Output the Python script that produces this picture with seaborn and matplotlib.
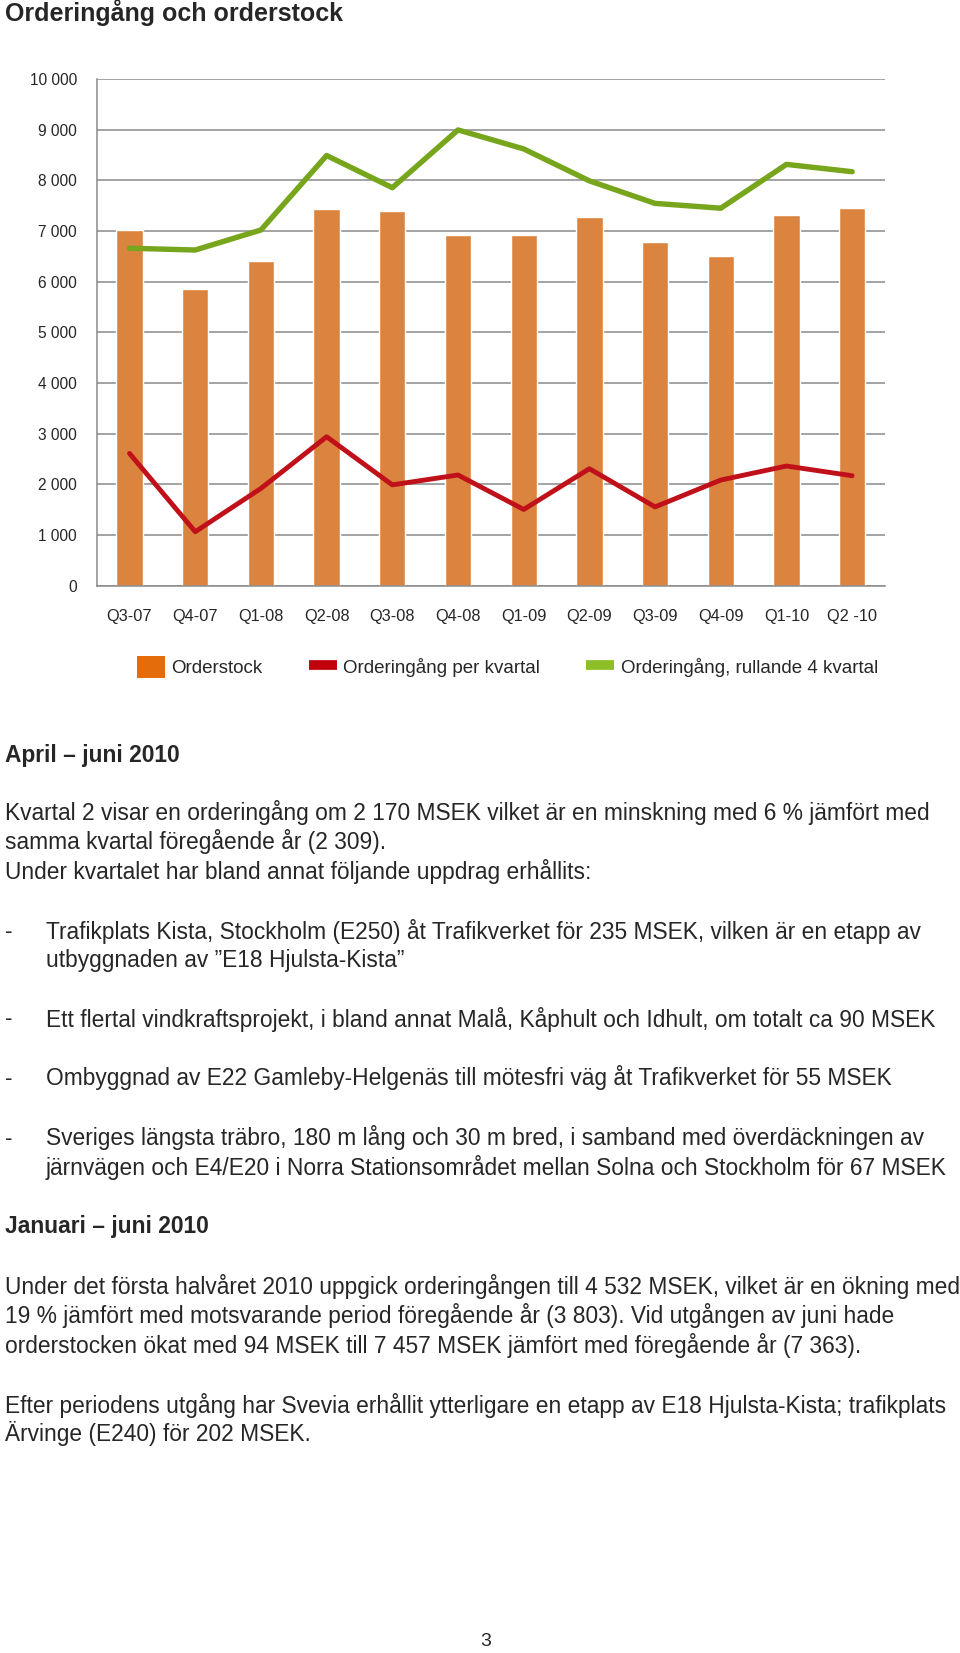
import pandas as pd
import numpy as np
import seaborn as sns
import matplotlib.pyplot as plt
from matplotlib.ticker import FuncFormatter
from matplotlib.patches import Patch
from matplotlib.lines import Line2D

quarters = ['Q3-07', 'Q4-07', 'Q1-08', 'Q2-08', 'Q3-08', 'Q4-08',
            'Q1-09', 'Q2-09', 'Q3-09', 'Q4-09', 'Q1-10', 'Q2 -10']
orderstock = [7020, 5860, 6410, 7430, 7395, 6930, 6930, 7270, 6780, 6510, 7320, 7457]
per_kvartal = [2610, 1065, 1920, 2940, 1990, 2185, 1505, 2309, 1555, 2085, 2362, 2170]
rullande = [6660, 6625, 7020, 8490, 7855, 8995, 8620, 7990, 7545, 7450, 8315, 8170]
series_names = ['Orderstock', 'Orderingång per kvartal', 'Orderingång, rullande 4 kvartal']

df = pd.DataFrame({'kvartal': quarters, series_names[0]: orderstock,
                   series_names[1]: per_kvartal, series_names[2]: rullande})

sns.set_style('white')
plt.rcParams['font.family'] = ['Liberation Sans', 'DejaVu Sans']

W, H = 960, 1653
fig = plt.figure(figsize=(W / 100, H / 100), dpi=100)

def fy(px):
    return 1 - px / H

ax = fig.add_axes([96.7 / W, fy(585.7), (885 - 96.7) / W, (585.7 - 79) / H])

orange = '#DB843F'
red = '#C0101A'
green = '#77A51C'
grid_c = '#8a8a8a'

sns.barplot(data=df, x='kvartal', y=series_names[0], color=orange, width=0.4,
            saturation=1, ax=ax, zorder=2)
sns.lineplot(data=df, x='kvartal', y=series_names[1], color=red,
             linewidth=3.5, ax=ax, zorder=3)
sns.lineplot(data=df, x='kvartal', y=series_names[2], color=green,
             linewidth=3.9, ax=ax, zorder=3)

ax.set_xlim(-0.5, len(quarters) - 0.5)
ax.set_ylim(0, 10000)
ax.set_yticks(range(0, 10001, 1000))
ax.yaxis.set_major_formatter(FuncFormatter(lambda v, p: f'{int(v):,}'.replace(',', ' ')))
ax.set_xlabel('')
ax.set_ylabel('')
ax.grid(axis='y', color=grid_c, linewidth=1.1, zorder=0)
ax.set_axisbelow(True)
for s in ['top', 'right']:
    ax.spines[s].set_visible(False)
for s in ['left', 'bottom']:
    ax.spines[s].set_color(grid_c)
    ax.spines[s].set_linewidth(1.1)

# ticks between categories on x, outward ticks on y
ax.set_xticks(np.arange(len(quarters)))
ax.set_xticklabels(quarters)
ax.set_xticks(np.arange(-0.5, len(quarters)), minor=True)
ax.tick_params(axis='x', which='major', length=0, pad=17, labelsize=11.8)
ax.tick_params(axis='x', which='minor', length=4, width=1.1, color=grid_c)
ax.tick_params(axis='y', length=4.8, width=1.1, color=grid_c, pad=9.4, labelsize=11.2)

handles = [Patch(facecolor='#E46C0A', edgecolor='none'),
           Line2D([], [], color='#C0000C', linewidth=7, solid_capstyle='butt'),
           Line2D([], [], color='#8CBF26', linewidth=7, solid_capstyle='butt')]
fig.legend(handles, series_names, loc='center', bbox_to_anchor=(0.5286, fy(667)), ncol=3,
           frameon=False, fontsize=13.5, handlelength=1.5, handleheight=1.35,
           columnspacing=2.45, handletextpad=0.35)

fig.text(5 / W, fy(13), 'Orderingång och orderstock', fontsize=18,
         fontweight='bold', va='center')

body = 16.4
lines = [
    (5, 755.6, 'April – juni 2010', True),
    (5, 812.5, 'Kvartal 2 visar en orderingång om 2 170 MSEK vilket är en minskning med 6 % jämfört med', False),
    (5, 842, 'samma kvartal föregående år (2 309).', False),
    (5, 871.5, 'Under kvartalet har bland annat följande uppdrag erhållits:', False),
    (46, 931.5, 'Trafikplats Kista, Stockholm (E250) åt Trafikverket för 235 MSEK, vilken är en etapp av', False),
    (46, 961, 'utbyggnaden av ”E18 Hjulsta-Kista”', False),
    (46, 1019, 'Ett flertal vindkraftsprojekt, i bland annat Malå, Kåphult och Idhult, om totalt ca 90 MSEK', False),
    (46, 1078, 'Ombyggnad av E22 Gamleby-Helgenäs till mötesfri väg åt Trafikverket för 55 MSEK', False),
    (46, 1138, 'Sveriges längsta träbro, 180 m lång och 30 m bred, i samband med överdäckningen av', False),
    (46, 1167.6, 'järnvägen och E4/E20 i Norra Stationsområdet mellan Solna och Stockholm för 67 MSEK', False),
    (5, 1226.6, 'Januari – juni 2010', True),
    (5, 1286.7, 'Under det första halvåret 2010 uppgick orderingången till 4 532 MSEK, vilket är en ökning med', False),
    (5, 1316, '19 % jämfört med motsvarande period föregående år (3 803). Vid utgången av juni hade', False),
    (5, 1345.7, 'orderstocken ökat med 94 MSEK till 7 457 MSEK jämfört med föregående år (7 363).', False),
    (5, 1405.8, 'Efter periodens utgång har Svevia erhållit ytterligare en etapp av E18 Hjulsta-Kista; trafikplats', False),
    (5, 1434, 'Ärvinge (E240) för 202 MSEK.', False),
]
for x, y, t, bold in lines:
    fig.text(x / W, fy(y), t, fontsize=body, va='center',
             fontweight='bold' if bold else 'normal')

for y in [931.5, 1019, 1078, 1138]:
    fig.text(5 / W, fy(y), '-', fontsize=body, va='center')

fig.text(486 / W, fy(1642), '3', fontsize=14, ha='center', va='center')

fig.savefig('out.png', dpi=100)
